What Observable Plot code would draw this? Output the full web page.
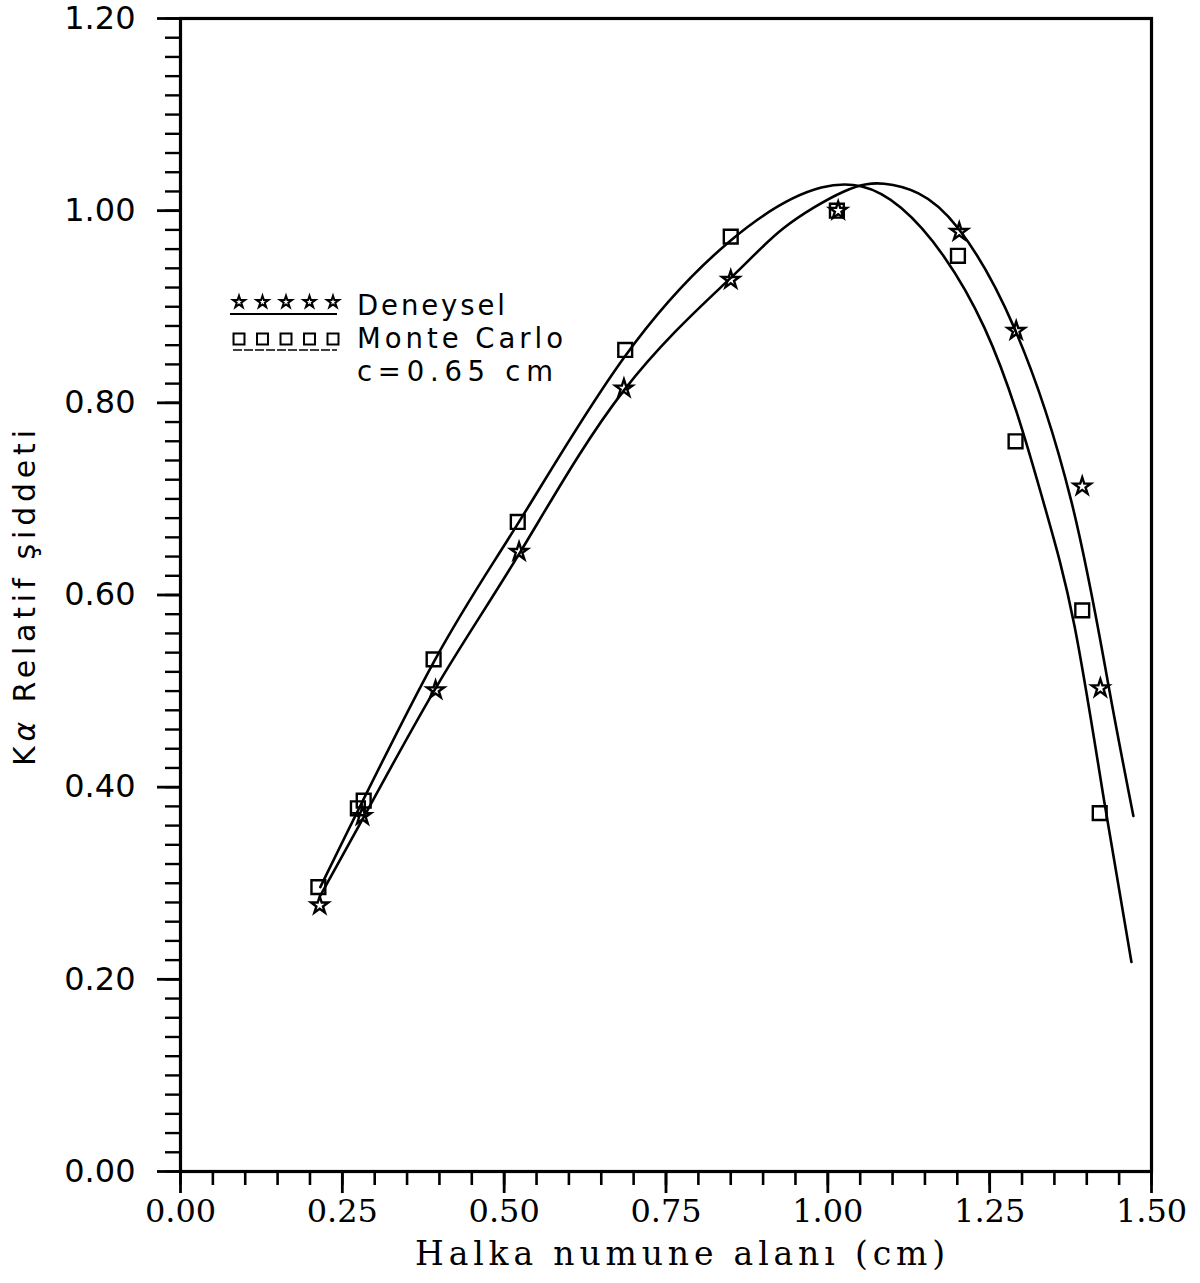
<!DOCTYPE html>
<html><head><meta charset="utf-8">
<script src="https://cdn.jsdelivr.net/npm/d3@7"></script>
<script src="https://cdn.jsdelivr.net/npm/@observablehq/plot@0.6"></script>
<style>
body{margin:0;background:#fff}
#chart{position:relative;width:1200px;height:1283px}
</style>
</head><body><div id="chart"></div>
<script>
// Deneysel (experimental) points
const expX = [0.215, 0.281, 0.394, 0.523, 0.685, 0.850, 1.016, 1.203, 1.291, 1.393, 1.421];
const expY = [0.277, 0.370, 0.501, 0.645, 0.815, 0.928, 1.000, 0.978, 0.875, 0.713, 0.503];
// Monte Carlo points
const mcX = [0.213, 0.274, 0.283, 0.391, 0.521, 0.687, 0.850, 1.014, 1.201, 1.290, 1.393, 1.420];
const mcY = [0.296, 0.378, 0.386, 0.533, 0.676, 0.855, 0.973, 1.000, 0.953, 0.760, 0.584, 0.373];
// fitted curve (Deneysel)
const expFitX = [0.216, 0.289, 0.402, 0.526, 0.685, 0.850, 0.932, 1.025, 1.087, 1.140, 1.201, 1.288, 1.376, 1.433, 1.472];
const expFitY = [0.287, 0.376, 0.512, 0.646, 0.813, 0.930, 0.982, 1.020, 1.028, 1.018, 0.982, 0.878, 0.698, 0.508, 0.370];
// fitted curve (Monte Carlo)
const mcFitX = [0.216, 0.391, 0.521, 0.685, 0.850, 0.990, 1.113, 1.242, 1.330, 1.381, 1.427, 1.469];
const mcFitY = [0.296, 0.530, 0.674, 0.847, 0.969, 1.024, 1.003, 0.878, 0.704, 0.568, 0.385, 0.218];

const xTicks = [0, 0.25, 0.5, 0.75, 1.0, 1.25, 1.5];
const xTickLabels = ["0.00", "0.25", "0.50", "0.75", "1.00", "1.25", "1.50"];
const xMinorTicks = [0,0.05,0.1,0.15,0.2,0.25,0.3,0.35,0.4,0.45,0.5,0.55,0.6,0.65,0.7,0.75,0.8,0.85,0.9,0.95,1.0,1.05,1.1,1.15,1.2,1.25,1.3,1.35,1.4,1.45,1.5];
const yTicks = [0, 0.2, 0.4, 0.6, 0.8, 1.0, 1.2];
const yTickLabels = ["0.00", "0.20", "0.40", "0.60", "0.80", "1.00", "1.20"];
const yMinorTicks = d3.range(0, 61).map(i => i / 50);

const xLabel = "Halka numune alanı (cm)";
const yLabelParts = ["K", "α", " Relatif şiddeti"];
const legendNames = ["Deneysel", "Monte Carlo", "c=0.65 cm"];

const exp = expX.map((x, i) => ({x, y: expY[i]}));
const mc = mcX.map((x, i) => ({x, y: mcY[i]}));
const expFit = expFitX.map((x, i) => ({x, y: expFitY[i]}));
const mcFit = mcFitX.map((x, i) => ({x, y: mcFitY[i]}));

const sans = "DejaVu Sans";
const serif = "DejaVu Serif";

const plot = Plot.plot({
  width: 1200, height: 1283,
  marginLeft: 180, marginRight: 49, marginTop: 18, marginBottom: 112,
  x: {domain: [0, 1.5]},
  y: {domain: [0, 1.2]},
  style: {background: "white", color: "#000"},
  marks: [
    Plot.axisX({ticks: xMinorTicks, tickSize: 14, tickFormat: () => "", strokeWidth: 2.6, label: null}),
    Plot.axisX({ticks: xTicks, tickSize: 22, tickPadding: 6, tickFormat: (d, i) => xTickLabels[i],
      fontFamily: serif, fontSize: 32, strokeWidth: 2.8, label: null}),
    Plot.axisY({ticks: yMinorTicks, tickSize: 15, tickFormat: () => "", strokeWidth: 2.4, label: null}),
    Plot.axisY({ticks: yTicks, tickSize: 23, tickPadding: 22, tickFormat: (d, i) => yTickLabels[i],
      fontFamily: sans, fontSize: 32, strokeWidth: 2.8, label: null}),
    Plot.frame({stroke: "#000", strokeWidth: 3.2}),
    Plot.line(mcFit, {x: "x", y: "y", curve: "natural", stroke: "#000", strokeWidth: 2.6}),
    Plot.line(expFit, {x: "x", y: "y", curve: "natural", stroke: "#000", strokeWidth: 2.6}),
    Plot.dot(mc, {x: "x", y: "y", symbol: "square", r: 7.8, stroke: "#000", strokeWidth: 2.4, fill: "none"}),
    Plot.dot(exp, {x: "x", y: "y", symbol: "star", r: 5.4, stroke: "#000", strokeWidth: 2.4, fill: "none"})
  ]
});

document.getElementById("chart").appendChild(plot);
const svg = d3.select(plot);

// axis titles
svg.append("text")
  .attr("x", 680).attr("y", 1265)
  .attr("text-anchor", "middle")
  .attr("font-family", serif).attr("font-size", 33)
  .attr("textLength", 530).attr("lengthAdjust", "spacing")
  .attr("fill", "#000")
  .text(xLabel);

const yl = svg.append("text")
  .attr("transform", "translate(35,598) rotate(-90)")
  .attr("text-anchor", "middle")
  .attr("font-family", sans).attr("font-size", 30)
  .attr("textLength", 336).attr("lengthAdjust", "spacing")
  .attr("fill", "#000");
yl.append("tspan").text(yLabelParts[0]);
yl.append("tspan").attr("font-style", "italic").text(yLabelParts[1]);
yl.append("tspan").text(yLabelParts[2]);

// legend
const lg = svg.append("g");
const starPath = d3.symbol(d3.symbolStar, 44)();
const sqPath = d3.symbol(d3.symbolSquare, 120)();
for (let i = 0; i < 5; i++) {
  lg.append("path").attr("d", starPath).attr("transform", `translate(${239 + 23.5 * i},302)`)
    .attr("fill", "none").attr("stroke", "#000").attr("stroke-width", 2);
  lg.append("path").attr("d", sqPath).attr("transform", `translate(${239 + 23.5 * i},339)`)
    .attr("fill", "none").attr("stroke", "#000").attr("stroke-width", 2);
}
lg.append("line").attr("x1", 230).attr("x2", 337).attr("y1", 314).attr("y2", 314)
  .attr("stroke", "#000").attr("stroke-width", 2);
lg.append("line").attr("x1", 233).attr("x2", 337).attr("y1", 350).attr("y2", 350)
  .attr("stroke", "#000").attr("stroke-width", 1.5).attr("stroke-dasharray", "9 2");
const lt = [[legendNames[0], 315, 148], [legendNames[1], 348, 206], [legendNames[2], 381, 196]];
lt.forEach(([t, y, w]) => {
  lg.append("text").attr("x", 357).attr("y", y)
    .attr("text-anchor", "start")
    .attr("font-family", sans).attr("font-size", 27.5)
    .attr("textLength", w).attr("lengthAdjust", "spacing")
    .attr("fill", "#000").text(t);
});
</script>
</body></html>
